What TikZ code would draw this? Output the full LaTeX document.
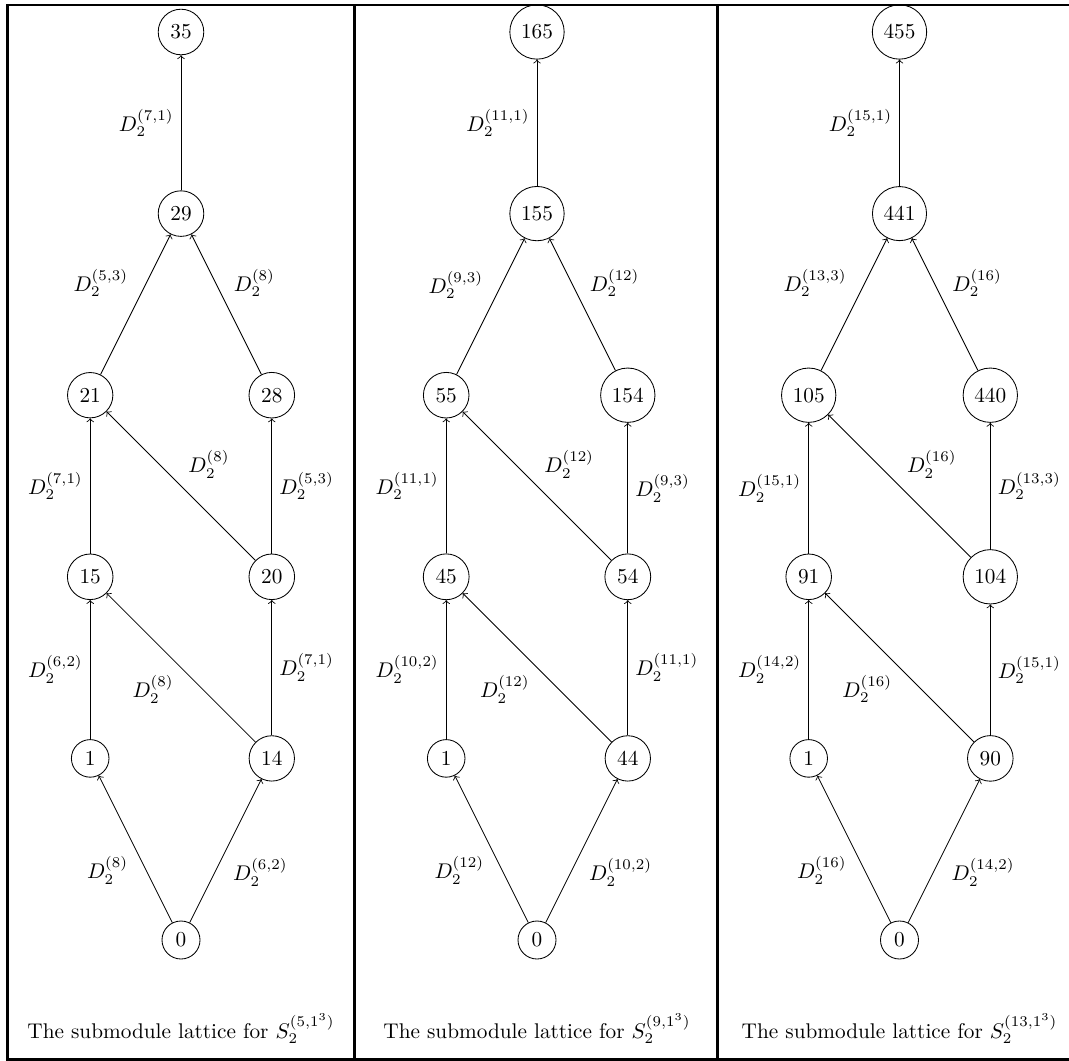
\documentclass[tikz,border=0pt]{standalone}
\usepackage{amsmath}
\begin{document}
\begin{tikzpicture}[x=0.4703pt,y=-0.4703pt,
  lat/.style={circle,draw,line width=0.4pt},
  edg/.style={->,line width=0.4pt},
  framerule/.style={line width=1.2pt},
  captext/.style={anchor=base}]
\useasboundingbox (0,0) rectangle (1069,1061);
\clip (0,0) rectangle (1069,1061);
% frame (table rules)
\draw[framerule] (1085,5) -- (7.3,5) -- (7.3,1059.3) -- (1085,1059.3);
\draw[framerule] (354.7,5) -- (354.7,1059.3);
\draw[framerule] (717.5,5) -- (717.5,1059.3);

% ---------- column 1 ----------
\begin{scope}[shift={(181,940)}]
\node[lat] (a0)  at (0,0) {0};
\node[lat] (aL1) at (-90.8,-181.6) {1};
\node[lat] (aR1) at (90.8,-181.6) {14};
\node[lat] (aL2) at (-90.8,-363.2) {15};
\node[lat] (aR2) at (90.8,-363.2) {20};
\node[lat] (aL3) at (-90.8,-544.8) {21};
\node[lat] (aR3) at (90.8,-544.8) {28};
\node[lat] (aT1) at (0,-726.4) {29};
\node[lat] (aT2) at (0,-908) {35};
\node[captext] (acap) at (0,98) {The submodule lattice for $S_2^{(5,1^3)}$};
\end{scope}
\draw[edg] (a0) -- node[below left] {$D_2^{(8)}$} (aL1);
\draw[edg] (a0) -- node[below right] {$D_2^{(6,2)}$} (aR1);
\draw[edg] (aL1) -- node[left] {$D_2^{(6,2)}$} (aL2);
\draw[edg] (aR1) -- node[below left] {$D_2^{(8)}$} (aL2);
\draw[edg] (aR1) -- node[right] {$D_2^{(7,1)}$} (aR2);
\draw[edg] (aL2) -- node[left] {$D_2^{(7,1)}$} (aL3);
\draw[edg] (aR2) -- node[above right] {$D_2^{(8)}$} (aL3);
\draw[edg] (aR2) -- node[right] {$D_2^{(5,3)}$} (aR3);
\draw[edg] (aL3) -- node[above left] {$D_2^{(5,3)}$} (aT1);
\draw[edg] (aR3) -- node[above right] {$D_2^{(8)}$} (aT1);
\draw[edg] (aT1) -- node[left] {$D_2^{(7,1)}$} (aT2);

% ---------- column 2 ----------
\begin{scope}[shift={(537,940)}]
\node[lat] (b0)  at (0,0) {0};
\node[lat] (bL1) at (-90.8,-181.6) {1};
\node[lat] (bR1) at (90.8,-181.6) {44};
\node[lat] (bL2) at (-90.8,-363.2) {45};
\node[lat] (bR2) at (90.8,-363.2) {54};
\node[lat] (bL3) at (-90.8,-544.8) {55};
\node[lat] (bR3) at (90.8,-544.8) {154};
\node[lat] (bT1) at (0,-726.4) {155};
\node[lat] (bT2) at (0,-908) {165};
\node[captext] (bcap) at (0,98) {The submodule lattice for $S_2^{(9,1^3)}$};
\end{scope}
\draw[edg] (b0) -- node[below left] {$D_2^{(12)}$} (bL1);
\draw[edg] (b0) -- node[below right] {$D_2^{(10,2)}$} (bR1);
\draw[edg] (bL1) -- node[left] {$D_2^{(10,2)}$} (bL2);
\draw[edg] (bR1) -- node[below left] {$D_2^{(12)}$} (bL2);
\draw[edg] (bR1) -- node[right] {$D_2^{(11,1)}$} (bR2);
\draw[edg] (bL2) -- node[left] {$D_2^{(11,1)}$} (bL3);
\draw[edg] (bR2) -- node[above right] {$D_2^{(12)}$} (bL3);
\draw[edg] (bR2) -- node[right] {$D_2^{(9,3)}$} (bR3);
\draw[edg] (bL3) -- node[above left] {$D_2^{(9,3)}$} (bT1);
\draw[edg] (bR3) -- node[above right] {$D_2^{(12)}$} (bT1);
\draw[edg] (bT1) -- node[left] {$D_2^{(11,1)}$} (bT2);

% ---------- column 3 ----------
\begin{scope}[shift={(899.5,940)}]
\node[lat] (c0)  at (0,0) {0};
\node[lat] (cL1) at (-90.8,-181.6) {1};
\node[lat] (cR1) at (90.8,-181.6) {90};
\node[lat] (cL2) at (-90.8,-363.2) {91};
\node[lat] (cR2) at (90.8,-363.2) {104};
\node[lat] (cL3) at (-90.8,-544.8) {105};
\node[lat] (cR3) at (90.8,-544.8) {440};
\node[lat] (cT1) at (0,-726.4) {441};
\node[lat] (cT2) at (0,-908) {455};
\node[captext] (ccap) at (0,98) {The submodule lattice for $S_2^{(13,1^3)}$};
\end{scope}
\draw[edg] (c0) -- node[below left] {$D_2^{(16)}$} (cL1);
\draw[edg] (c0) -- node[below right] {$D_2^{(14,2)}$} (cR1);
\draw[edg] (cL1) -- node[left] {$D_2^{(14,2)}$} (cL2);
\draw[edg] (cR1) -- node[below left] {$D_2^{(16)}$} (cL2);
\draw[edg] (cR1) -- node[right] {$D_2^{(15,1)}$} (cR2);
\draw[edg] (cL2) -- node[left] {$D_2^{(15,1)}$} (cL3);
\draw[edg] (cR2) -- node[above right] {$D_2^{(16)}$} (cL3);
\draw[edg] (cR2) -- node[right] {$D_2^{(13,3)}$} (cR3);
\draw[edg] (cL3) -- node[above left] {$D_2^{(13,3)}$} (cT1);
\draw[edg] (cR3) -- node[above right] {$D_2^{(16)}$} (cT1);
\draw[edg] (cT1) -- node[left] {$D_2^{(15,1)}$} (cT2);
\end{tikzpicture}
\end{document}
